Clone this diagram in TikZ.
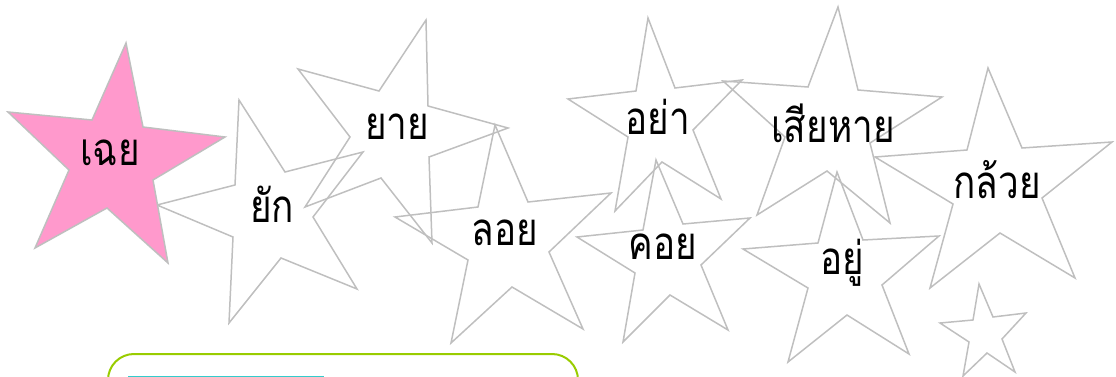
\documentclass[tikz,border=0pt]{standalone}
\usepackage{fontspec}
\usepackage{graphicx}
\newfontfamily\thaifont[Script=Thai]{Loma}
\definecolor{stargray}{HTML}{BFBFBF}
\definecolor{starpink}{HTML}{FF99CC}
\definecolor{boxgreen}{HTML}{99CC00}
\definecolor{linecyan}{HTML}{33CCCC}
\newcommand{\thaiword}[1]{\scalebox{0.97}[1.2]{#1}}
\tikzset{
  starline/.style={draw=stargray, line width=1.5pt, line join=miter},
  pinkstar/.style={starline, fill=starpink},
  word/.style={font=\thaifont\fontsize{38}{40}\selectfont, inner sep=0pt},
}
\begin{document}
\begin{tikzpicture}[x=1pt,y=-1pt]
\useasboundingbox (0,0) rectangle (1116,377);
% stars
\path[starline] (239,100) -- (285,172) -- (363,152) -- (313,217) -- (357,289) -- (281,258) -- (229,323) -- (233,237) -- (157,205) -- (235,185) -- cycle;
\path[starline] (426,20) -- (428,106) -- (508,128) -- (429,157) -- (432,243) -- (381,178) -- (305,207) -- (350,137) -- (298,69) -- (379,91) -- cycle;
\path[starline] (495,125) -- (528,202) -- (611,193) -- (549,252) -- (583,329) -- (512,287) -- (451,343) -- (468,260) -- (395,217) -- (478,207) -- cycle;
\path[starline] (648,18) -- (675,88) -- (742,80) -- (693,130) -- (721,199) -- (662,162) -- (615,211) -- (628,137) -- (568,99) -- (636,91) -- cycle;
\path[starline] (656,160) -- (683,224) -- (750,218) -- (701,265) -- (728,330) -- (670,295) -- (623,342) -- (635,273) -- (577,237) -- (643,230) -- cycle;
\path[starline] (838,7) -- (858,90) -- (942,97) -- (870,143) -- (890,223) -- (827,171) -- (757,215) -- (785,137) -- (723,81) -- (808,87) -- cycle;
\path[starline] (837,172) -- (863,240) -- (939,236) -- (882,285) -- (909,354) -- (847,315) -- (788,362) -- (808,288) -- (743,249) -- (818,243) -- cycle;
\path[starline] (988,68) -- (1022,148) -- (1112,142) -- (1042,198) -- (1075,278) -- (1000,233) -- (930,288) -- (953,204) -- (875,157) -- (967,150) -- cycle;
\path[starline] (979,284) -- (993,317) -- (1026,313) -- (1002,339) -- (1015,372) -- (987,353) -- (963,376) -- (969,342) -- (940,323) -- (973,320) -- cycle;
\path[pinkstar] (126,43) -- (143,127) -- (225,137) -- (153,180) -- (168,263) -- (107,208) -- (35,248) -- (69,170) -- (8,112) -- (92,120) -- cycle;
% words
\node[word] (w1) at (110,153) {\thaiword{เฉย}};
\node[word] (w2) at (272,204) {\thaiword{ยัก}};
\node[word] (w3) at (397,127) {\thaiword{ยาย}};
\node[word] (w4) at (505,233) {\thaiword{ลอย}};
\node[word] (w5) at (658,117) {\thaiword{อย่า}};
\node[word] (w6) at (663,247) {\thaiword{คอย}};
\node[word] (w7) at (833,123) {\thaiword{เสียหาย}};
\node[word] (w8) at (842,263) {\thaiword{อยู่}};
\node[word] (w9) at (997,180) {\thaiword{กล้วย}};
% bottom box
\draw[boxgreen, line width=2pt, rounded corners=26pt] (108,400) -- (108,354) -- (578,354) -- (578,400);
\fill[linecyan] (128,375.5) rectangle (324,378);
\end{tikzpicture}
\end{document}
